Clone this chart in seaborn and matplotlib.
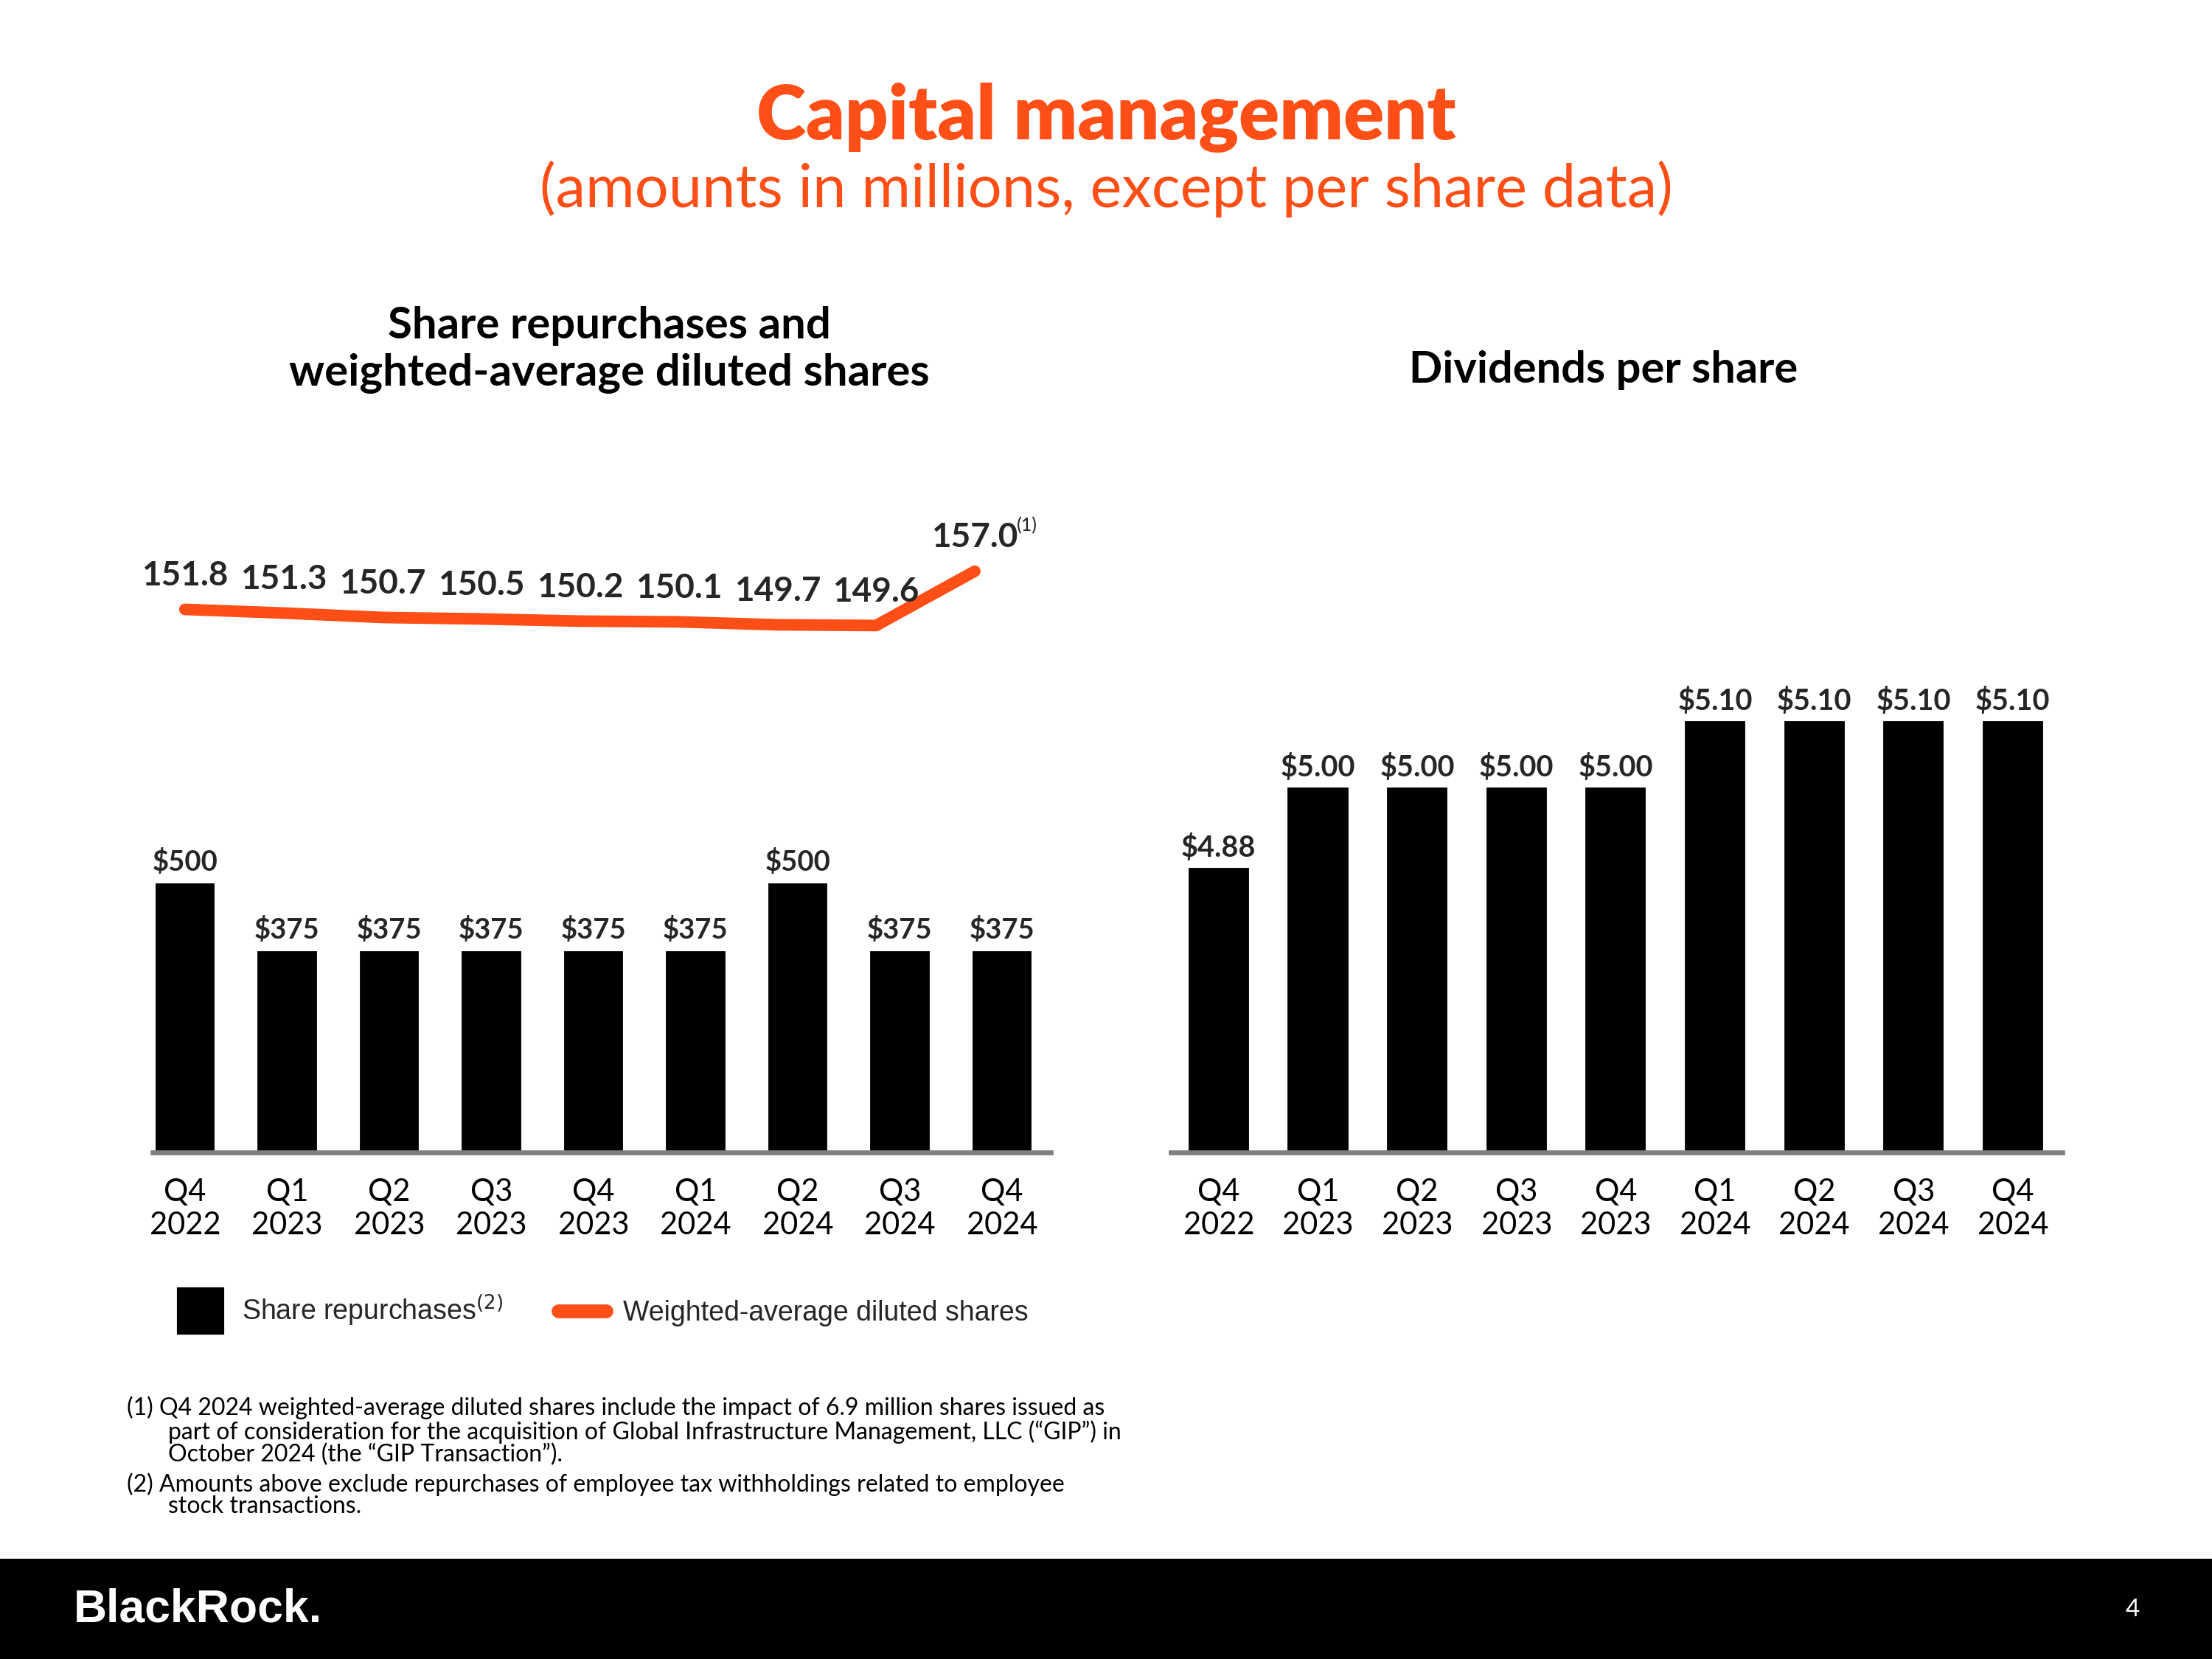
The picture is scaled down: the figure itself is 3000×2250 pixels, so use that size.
import matplotlib
matplotlib.use("Agg")
import matplotlib.pyplot as plt
import seaborn as sns
from matplotlib.lines import Line2D
from matplotlib.patches import Rectangle

# Dados
quarters = ["Q4\n2022", "Q1\n2023", "Q2\n2023", "Q3\n2023", "Q4\n2023",
            "Q1\n2024", "Q2\n2024", "Q3\n2024", "Q4\n2024"]
repurchases = [500, 375, 375, 375, 375, 375, 500, 375, 375]
diluted_shares = [151.8, 151.3, 150.7, 150.5, 150.2, 150.1, 149.7, 149.6, 157.0]
dividends = [4.88, 5.00, 5.00, 5.00, 5.00, 5.10, 5.10, 5.10, 5.10]

ORANGE = "#FF4F17"
GRAY = "#7F7F7F"

sns.set_theme(style="white")
plt.rcParams["font.family"] = ["Lato", "DejaVu Sans"]

fig = plt.figure(figsize=(10, 7.5), dpi=300)

# Títulos
fig.text(0.5, 0.929, "Capital management", ha="center", va="center",
         fontsize=24.5, fontweight="heavy", color=ORANGE)
fig.text(0.5, 0.886, "(amounts in millions, except per share data)", ha="center",
         va="center", fontsize=19.5, color=ORANGE)
fig.text(0.2755, 0.789, "Share repurchases and\nweighted-average diluted shares",
         ha="center", va="center", fontsize=14.4, fontweight="bold",
         linespacing=1.22, color="black")
fig.text(0.725, 0.777, "Dividends per share", ha="center", va="center",
         fontsize=14.3, fontweight="bold", color="black")

bottom, height = 0.3053, 0.3716


def style_axis(ax):
    for s in ["top", "right", "left"]:
        ax.spines[s].set_visible(False)
    ax.spines["bottom"].set_color(GRAY)
    ax.spines["bottom"].set_linewidth(1.6)
    ax.set_yticks([])
    ax.set_xlabel("")
    ax.set_ylabel("")
    ax.tick_params(axis="x", length=0, pad=8.5, labelsize=10, colors="black")
    ax.set_facecolor("none")


# Recompras
ax1 = fig.add_axes([0.0689, bottom, 0.4062, height])
sns.barplot(x=quarters, y=repurchases, color="black", width=0.61,
            saturation=1, ax=ax1)
ax1.set_xlim(-0.32, 8.48)
ax1.set_ylim(0, 1138)
style_axis(ax1)
ax1.bar_label(ax1.containers[0], labels=[f"${v}" for v in repurchases],
              padding=2, fontsize=9.2, fontweight="bold")

# Ações diluídas (linha)
ax_line = fig.add_axes([0.0689, bottom, 0.4062, height])
sns.lineplot(x=list(range(len(diluted_shares))), y=diluted_shares, color=ORANGE,
             linewidth=3.8, ax=ax_line)
ax_line.lines[0].set_solid_capstyle("round")
ax_line.lines[0].set_solid_joinstyle("round")
ax_line.set_xlim(-0.329, 8.771)
ax_line.set_ylim(77.76, 161.8)
ax_line.axis("off")
for i, v in enumerate(diluted_shares):
    ax_line.annotate(f"{v:.1f}", (i, v), xytext=(0, 11), textcoords="offset points",
                     ha="center", va="center", fontsize=11, fontweight="bold")
ax_line.annotate("(1)", (8, diluted_shares[-1]), xytext=(17, 15),
                 textcoords="offset points", ha="center", va="center", fontsize=6)

# Dividendos
ax2 = fig.add_axes([0.5293, bottom, 0.4031, height])
sns.barplot(x=quarters, y=dividends, color="black", width=0.64,
            saturation=1, ax=ax2)
ax2.set_xlim(-0.483, 8.5)
ax2.set_ylim(4.451, 5.375)
style_axis(ax2)
ax2.bar_label(ax2.containers[0], labels=[f"${v:.2f}" for v in dividends],
              padding=1.5, fontsize=9.5, fontweight="bold")

# Legenda
handles = [
    Line2D([], [], marker="s", markersize=14.5, linestyle="none", color="black"),
    Line2D([], [], color=ORANGE, linewidth=4.5, solid_capstyle="round"),
]
labels = ["Share repurchases$^{(2)}$", "Weighted-average diluted shares"]
leg = fig.legend(handles, labels, loc="center left", bbox_to_anchor=(0.0686, 0.21),
                 ncol=2, frameon=False, handlelength=1.75, handletextpad=0.6,
                 columnspacing=2.0, prop={"family": "Liberation Sans", "size": 9})

# Notas de rodapé
fn = {"fontsize": 7.7, "color": "black", "va": "center"}
fig.text(0.0574, 1 - 998 / 1176,
         "(1) Q4 2024 weighted-average diluted shares include the impact of 6.9 million shares issued as", **fn)
fig.text(0.0759, 1 - 1015 / 1176,
         "part of consideration for the acquisition of Global Infrastructure Management, LLC (\u201cGIP\u201d) in", **fn)
fig.text(0.0759, 1 - 1031 / 1176, "October 2024 (the \u201cGIP Transaction\u201d).", **fn)
fig.text(0.0574, 1 - 1052 / 1176,
         "(2) Amounts above exclude repurchases of employee tax withholdings related to employee", **fn)
fig.text(0.0759, 1 - 1068 / 1176, "stock transactions.", **fn)

# Rodapé
fig.patches.append(Rectangle((0, 0), 1, 1 - 1105 / 1176, transform=fig.transFigure,
                             facecolor="black", edgecolor="none", zorder=0))
fig.text(0.0332, 0.0298, "BlackRock.", color="white", fontsize=15, fontweight="bold",
         va="center", ha="left", family=["Liberation Sans Narrow", "Liberation Sans"])
fig.text(0.964, 0.0298, "4", color="white", fontsize=8, va="center", ha="center")

fig.savefig("out.png", dpi=300, facecolor="white")
plt.close(fig)
